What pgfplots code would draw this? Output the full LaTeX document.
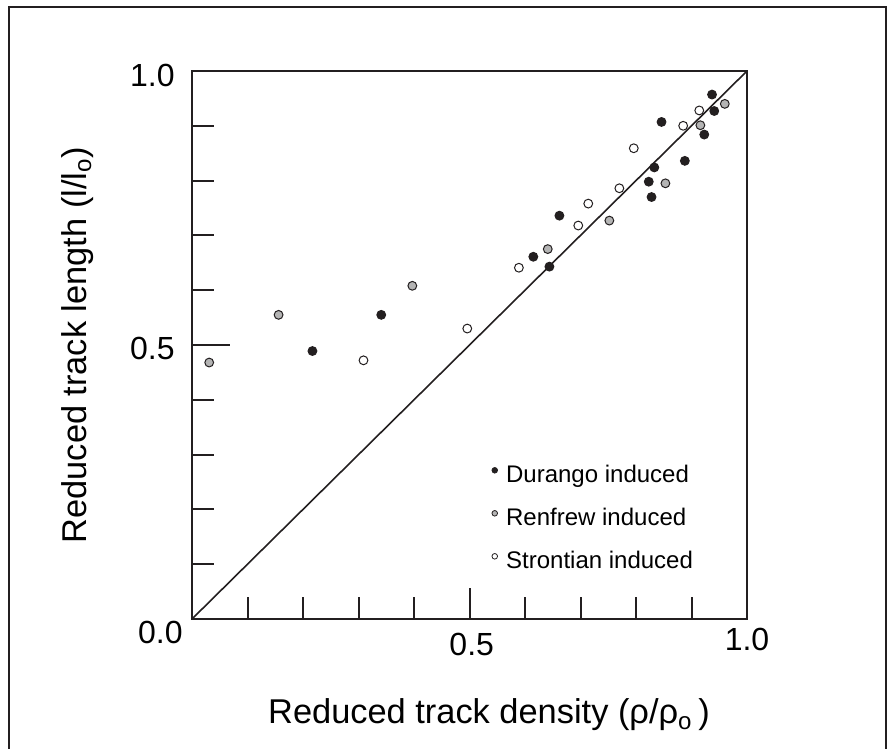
\documentclass[border=0pt]{standalone}
\usepackage{fontspec}
\setmainfont{Liberation Sans}
\usepackage{pgfplots}
\pgfplotsset{compat=1.18}
\definecolor{ink}{HTML}{231F20}
\definecolor{dgray}{HTML}{B4B4B4}
\begin{document}
\begin{tikzpicture}
\path[use as bounding box] (0,0) rectangle (448pt,374.5pt);
\draw[ink, line width=1pt] (4.5pt,-2pt) -- (4.5pt,371pt) -- (443pt,371pt) -- (443pt,-2pt);
\begin{axis}[
  at={(96pt,65pt)}, anchor=south west,
  scale only axis, width=277.5pt, height=274pt,
  xmin=0, xmax=1, ymin=0, ymax=1,
  axis line style={ink, line width=1pt},
  tick pos=left, tick align=inside,
  major tick length=11pt,
  every tick/.style={ink, line width=1pt},
  xtick={0.1,0.2,0.3,0.4,0.6,0.7,0.8,0.9},
  ytick={0.1,0.2,0.3,0.4,0.6,0.7,0.8,0.9},
  xticklabels={}, yticklabels={},
  extra x ticks={0.5}, extra x tick labels={},
  extra x tick style={major tick length=15.5pt},
  extra y ticks={0.5}, extra y tick labels={},
  extra y tick style={major tick length=19pt},
  clip=false,
  legend style={at={(0.539,0.283)}, anchor=north west, draw=none, fill=none,
    inner sep=0pt, row sep=9.5pt, column sep=0pt,
    font=\fontsize{12}{14}\selectfont,
    nodes={inner sep=0pt, text height=9pt, text depth=3pt}},
  legend cell align=left,
]
\addplot[only marks, mark=*, mark size=2.2pt, mark options={draw=ink, fill=ink, line width=0.5pt},
  legend image code/.code={\draw[ink, fill=ink, line width=0.4pt] (0pt,3pt) circle (1.4pt); \path (5.5pt,0pt);}]
coordinates {
(0.937,0.957) (0.941,0.927) (0.846,0.907) (0.923,0.884) (0.888,0.836)
(0.833,0.824) (0.823,0.798) (0.828,0.770) (0.662,0.736) (0.615,0.661)
(0.644,0.643) (0.341,0.555) (0.217,0.489)
};
\addlegendentry{Durango induced}
\addplot[only marks, mark=*, mark size=2.2pt, mark options={draw=ink, fill=dgray, line width=0.5pt},
  legend image code/.code={\draw[ink, fill=dgray, line width=0.4pt] (0pt,3pt) circle (1.4pt); \path (5.5pt,0pt);}]
coordinates {
(0.960,0.940) (0.916,0.901) (0.853,0.795) (0.752,0.727) (0.641,0.675)
(0.397,0.608) (0.156,0.555) (0.031,0.468)
};
\addlegendentry{Renfrew induced}
\addplot[only marks, mark=*, mark size=2.2pt, mark options={draw=ink, fill=white, line width=0.5pt},
  legend image code/.code={\draw[ink, fill=white, line width=0.4pt] (0pt,3pt) circle (1.4pt); \path (5.5pt,0pt);}]
coordinates {
(0.914,0.928) (0.885,0.900) (0.796,0.859) (0.770,0.786) (0.714,0.758)
(0.696,0.718) (0.589,0.641) (0.496,0.530) (0.309,0.472)
};
\addlegendentry{Strontian induced}
\addplot[ink, line width=0.8pt, forget plot] coordinates {(0,0) (1,1)};
\node[anchor=east, inner sep=0pt, font=\fontsize{16}{19}\selectfont, xshift=-4.5pt, yshift=-6.75pt] at (axis cs:0,0) {0.0};
\node[anchor=east, inner sep=0pt, font=\fontsize{16}{19}\selectfont, xshift=-8.5pt, yshift=-1.5pt] at (axis cs:0,0.5) {0.5};
\node[anchor=east, inner sep=0pt, font=\fontsize{16}{19}\selectfont, xshift=-8.5pt, yshift=-2.25pt] at (axis cs:0,1) {1.0};
\node[anchor=north, inner sep=0pt, font=\fontsize{16}{19}\selectfont, yshift=-7pt] at (axis cs:0.504,0) {0.5};
\node[anchor=north, inner sep=0pt, font=\fontsize{16}{19}\selectfont, yshift=-4.5pt] at (axis cs:1,0) {1.0};
\end{axis}
\node[anchor=base, inner sep=0pt, font=\fontsize{17.2}{20}\selectfont] at (244.5pt,12.5pt) {Reduced track density (ρ/ρ\textsubscript{o}\,)};
\node[anchor=base, rotate=90, inner sep=0pt, font=\fontsize{17.2}{20}\selectfont] at (43pt,202pt) {Reduced track length (l/l\textsubscript{o})};
\end{tikzpicture}
\end{document}
